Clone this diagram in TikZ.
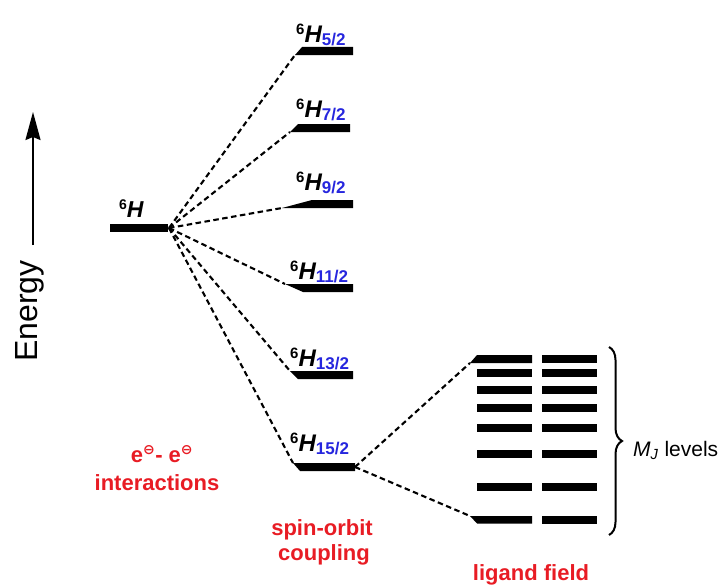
\documentclass[tikz,border=0pt]{standalone}
\usepackage{fontspec}
\setmainfont{Liberation Sans}
\newfontfamily\symfont{DejaVu Sans}
\usetikzlibrary{arrows.meta,decorations.pathreplacing}
\definecolor{labelred}{RGB}{232,28,36}
\definecolor{jblue}{RGB}{38,38,222}

% term symbol ^6H_{J}
\newcommand\termlabel[1]{%
  \bfseries{\fontsize{15}{15}\selectfont\raisebox{8pt}{6}}%
  {\fontsize{24}{24}\selectfont\itshape H}%
  {\fontsize{17}{17}\selectfont\color{jblue}\raisebox{-3.5pt}{#1}}}
\newcommand\emin{\textsuperscript{\symfont\fontsize{14}{14}\selectfont ⊖}}

\begin{document}
\begin{tikzpicture}[x=1pt,y=-1pt,
  dashline/.style={draw=black,line width=2.1pt,dash pattern=on 5.5pt off 3.5pt},
  termtext/.style={anchor=base west,inner sep=0pt},
  stagetext/.style={anchor=base,inner sep=0pt,text=labelred,font=\bfseries\fontsize{22}{22}\selectfont}]
\useasboundingbox (0,0) rectangle (727,586);

% energy axis
\draw[line width=2.2pt,-{Stealth[length=28pt,width=15pt,inset=3pt]}] (33,245) -- (33,112);
\node[rotate=90,anchor=base west,inner sep=0pt,font=\fontsize{32}{32}\selectfont] (energy) at (37,362) {Energy};

% free-ion term
\fill (110,224) rectangle (168,232);
\coordinate (H) at (169,228);
\node[termtext] (lH) at (119,217) {\bfseries{\fontsize{14}{14}\selectfont\raisebox{8pt}{6}}{\fontsize{23}{23}\selectfont\itshape H}};

% spin-orbit levels (tapered left ends meet the dashed lines)
\coordinate (j5) at (295,55);
\fill (j5) -- (302,47) -- (353,47) -- (353,55) -- cycle;
\coordinate (j7) at (290,132);
\fill (j7) -- (298,124) -- (350,124) -- (350,132) -- cycle;
\coordinate (j9) at (282,208);
\fill (j9) -- (312,200) -- (353,200) -- (353,208) -- cycle;
\coordinate (j11) at (285,284);
\fill (j11) -- (353,284) -- (353,292) -- (303,292) -- cycle;
\coordinate (j13) at (290,371);
\fill (j13) -- (353,371) -- (353,379) -- (298,379) -- cycle;
\coordinate (j15) at (293,463);
\fill (j15) -- (355,463) -- (355,471) -- (300,471) -- cycle;
\coordinate (j15r) at (355,467);

\node[termtext] (l5) at (296,42) {\termlabel{5/2}};
\node[termtext] (l7) at (296,117) {\termlabel{7/2}};
\node[termtext] (l9) at (296,190) {\termlabel{9/2}};
\node[termtext] (l11) at (290,279) {\termlabel{11/2}};
\node[termtext] (l13) at (290,366) {\termlabel{13/2}};
\node[termtext] (l15) at (290,451) {\termlabel{15/2}};

\foreach \t in {j5,j7,j9,j11,j13,j15}
  \draw[dashline] (H) -- (\t);

% ligand-field sublevels
\coordinate (m1) at (470,363);
\coordinate (m8) at (470,516);
\fill (m1) -- (477,355) -- (532,355) -- (532,363) -- cycle;
\fill (542,355) rectangle (597,363);
\foreach \c in {373,390,408,428,454,487}{
  \fill (477,\c-3.7) rectangle (532,\c+3.7);
  \fill (542,\c-3.7) rectangle (597,\c+3.7);
}
\fill (m8) -- (532,516) -- (532,523.5) -- (477,523.5) -- cycle;
\fill (542,516) rectangle (597,523.5);
\draw[dashline] (j15r) -- (m1);
\draw[dashline] (j15r) -- (m8);

% brace and its label
\draw[line width=2pt,decorate,decoration={brace,amplitude=13pt}] (609,347) -- (609,535);
\node[anchor=base west,inner sep=0pt,font=\fontsize{21}{21}\selectfont] (mj) at (633,456) {\textit{M}\textsubscript{\textit{J}} levels};

% stage labels
\node[stagetext] (ee) at (162,462) {e\emin- e\emin};
\node[stagetext] (inter) at (157,490) {interactions};
\node[stagetext] (so1) at (322,535) {spin-orbit};
\node[stagetext] (so2) at (324,560) {coupling};
\node[stagetext] (lf) at (531,580) {ligand field};
\end{tikzpicture}
\end{document}
